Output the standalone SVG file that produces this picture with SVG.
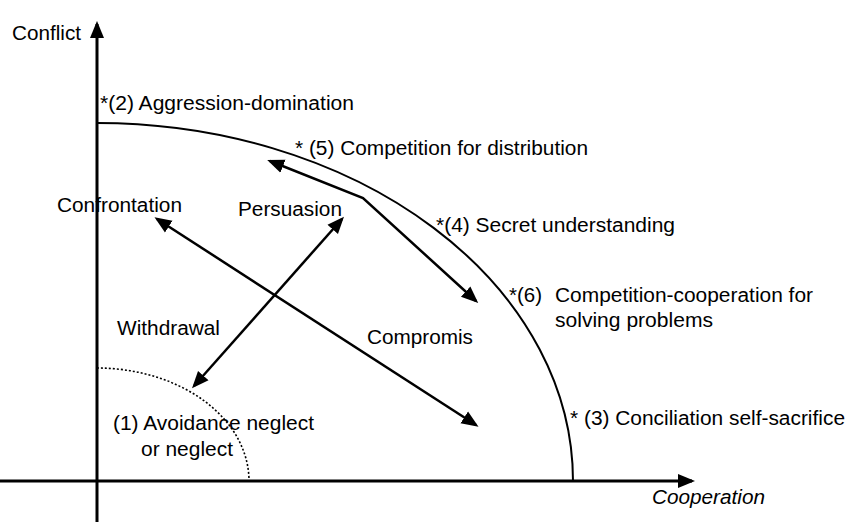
<svg xmlns="http://www.w3.org/2000/svg" width="848" height="522" viewBox="0 0 848 522">
<style>
text{font-family:"Liberation Sans",Arial,sans-serif;font-size:20px;fill:#000}
.ax{stroke:#000;stroke-width:3;fill:none}
.ar{stroke:#000;stroke-width:2.5;fill:none}
.arc{stroke:#000;stroke-width:2;fill:none}
.dot{stroke:#000;stroke-width:1.6;fill:none;stroke-dasharray:2 2}
</style>
<defs>
<marker id="ah" markerUnits="userSpaceOnUse" markerWidth="18" markerHeight="16" refX="14" refY="7" orient="auto-start-reverse" viewBox="0 0 18 14">
<path d="M0,0 L17,7 L0,14 z" fill="#000"/>
</marker>
</defs>
<g id="axes">
<line class="ax" x1="0" y1="481" x2="692" y2="481" marker-end="url(#ah)"/>
<line class="ax" x1="97" y1="522" x2="97" y2="24" marker-end="url(#ah)"/>
</g>
<g id="curves">
<path class="arc" d="M97,123 A476,358 0 0 1 573,481"/>
<path class="dot" d="M97,368 A152,113 0 0 1 249,481"/>
</g>
<g id="connectors">
<line class="ar" x1="157" y1="219" x2="476" y2="425" marker-start="url(#ah)" marker-end="url(#ah)"/>
<line class="ar" x1="342" y1="219" x2="194" y2="386" marker-start="url(#ah)" marker-end="url(#ah)"/>
<polyline class="ar" points="270,161 363,198 476,301" marker-start="url(#ah)" marker-end="url(#ah)"/>
</g>
<g id="labels">
<text id="conflict" x="12" y="40" textLength="69" lengthAdjust="spacingAndGlyphs">Conflict</text>
<text id="cooperation" x="652" y="504" font-style="italic" textLength="113" lengthAdjust="spacingAndGlyphs">Cooperation</text>
<text id="n2" x="100" y="110" textLength="254" lengthAdjust="spacingAndGlyphs">*(2) Aggression-domination</text>
<text id="n5" x="295" y="155" textLength="293" lengthAdjust="spacingAndGlyphs">* (5) Competition for distribution</text>
<text id="n4" x="436" y="232" textLength="239" lengthAdjust="spacingAndGlyphs">*(4) Secret understanding</text>
<text id="n6" y="302"><tspan x="509" textLength="33" lengthAdjust="spacingAndGlyphs">*(6)</tspan><tspan x="555" textLength="258" lengthAdjust="spacingAndGlyphs">Competition-cooperation for</tspan><tspan x="555" y="327" textLength="158" lengthAdjust="spacingAndGlyphs">solving problems</tspan></text>
<text id="n3" x="570" y="425" textLength="275" lengthAdjust="spacingAndGlyphs">* (3) Conciliation self-sacrifice</text>
<text id="confrontation" x="57" y="212" textLength="125" lengthAdjust="spacingAndGlyphs">Confrontation</text>
<text id="persuasion" x="238" y="216" textLength="104" lengthAdjust="spacingAndGlyphs">Persuasion</text>
<text id="withdrawal" x="117" y="335" textLength="103" lengthAdjust="spacingAndGlyphs">Withdrawal</text>
<text id="compromis" x="367" y="344" textLength="106" lengthAdjust="spacingAndGlyphs">Compromis</text>
<text id="n1" y="430"><tspan x="113" textLength="201" lengthAdjust="spacingAndGlyphs">(1) Avoidance neglect</tspan><tspan x="141" y="456" textLength="92" lengthAdjust="spacingAndGlyphs">or neglect</tspan></text>
</g>
</svg>
